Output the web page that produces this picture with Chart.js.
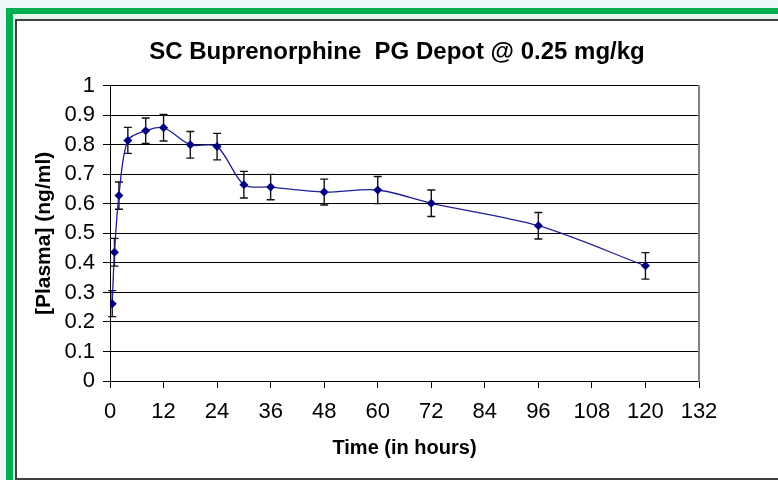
<!DOCTYPE html>
<html>
<head>
<meta charset="utf-8">
<script src="https://cdn.jsdelivr.net/npm/chart.js@4.4.1/dist/chart.umd.min.js"></script>
<style>
  html, body { margin: 0; padding: 0; }
  body { width: 778px; height: 480px; background: #eef7fa; position: relative; overflow: hidden; }
  #green { position: absolute; left: 6px; top: 8px; width: 800px; height: 500px;
           border-left: 7px solid #00b050; border-top: 6px solid #00b050; background: #e4f3ec; }
  #frame { position: absolute; left: 15px; top: 19px; width: 800px; height: 457px;
           border-left: 2px solid #404040; border-top: 2px solid #404040; border-bottom: 2px solid #404040; background: #fff; }
  #chart { position: absolute; left: 0; top: 0; }
</style>
</head>
<body>
<div id="green"></div>
<div id="frame"></div>
<canvas id="chart" width="778" height="480"></canvas>
<script>
// =========================
// data
// =========================
const hours = [0.5, 1, 2, 4, 8, 12, 18, 24, 30, 36, 48, 60, 72, 96, 120];
const plasma = [0.262, 0.436, 0.628, 0.815, 0.848, 0.858, 0.800, 0.794, 0.665, 0.657, 0.640, 0.647, 0.602, 0.526, 0.390];
const sem = [0.044, 0.047, 0.046, 0.044, 0.043, 0.045, 0.045, 0.045, 0.045, 0.043, 0.044, 0.046, 0.045, 0.045, 0.045];
const xTickLabels = ['0', '12', '24', '36', '48', '60', '72', '84', '96', '108', '120', '132'];
const yTickLabels = ['0', '0.1', '0.2', '0.3', '0.4', '0.5', '0.6', '0.7', '0.8', '0.9', '1'];

const FONT = "'Liberation Sans Narrow', 'Arial Narrow', 'Liberation Sans', Arial, sans-serif";

// error bars, drawn under the markers
const errorBars = {
    id: 'errorBars',
    beforeDatasetsDraw(chart) {
        const ctx = chart.ctx;
        const x = chart.scales.x;
        const y = chart.scales.y;
        ctx.save();
        ctx.strokeStyle = '#111';
        ctx.lineWidth = 1.4;
        hours.forEach((h, i) => {
            const px = x.getPixelForValue(h);
            const top = y.getPixelForValue(plasma[i] + sem[i]);
            const bot = y.getPixelForValue(plasma[i] - sem[i]);
            ctx.beginPath();
            ctx.moveTo(px, top); ctx.lineTo(px, bot);
            ctx.moveTo(px - 4, top); ctx.lineTo(px + 4, top);
            ctx.moveTo(px - 4, bot); ctx.lineTo(px + 4, bot);
            ctx.stroke();
        });
        ctx.restore();
    }
};

const ctx = document.getElementById('chart').getContext('2d');
const chart = new Chart(ctx, {
    type: 'line',
    data: {
        datasets: [{
            data: hours.map((h, i) => ({ x: h, y: plasma[i] })),
            borderColor: '#1f1f99',
            borderWidth: 1.3,
            backgroundColor: '#000080',
            pointStyle: 'rectRot',
            pointRadius: 4.5,
            pointBorderWidth: 0,
            tension: 0.3
        }]
    },
    options: {
        responsive: false,
        animation: false,
        layout: { padding: { left: 16, right: 0, top: 0, bottom: 0 } },
        plugins: {
            legend: { display: false },
            tooltip: { enabled: false },
            title: {
                display: true,
                text: 'SC Buprenorphine  PG Depot @ 0.25 mg/kg',
                color: '#000',
                font: { family: FONT, size: 24, weight: 'bold' },
                padding: { top: 38, bottom: 19 }
            }
        },
        scales: {
            x: {
                type: 'linear',
                min: 0,
                max: 132,
                afterFit(s) { s.height = 99; },
                ticks: {
                    stepSize: 12,
                    color: '#000',
                    padding: 11,
                    maxRotation: 0,
                    font: { family: FONT, size: 22 },
                    callback: (v, i) => xTickLabels[i]
                },
                grid: { drawOnChartArea: false, color: '#000', tickLength: 7 },
                border: { color: '#000', width: 1 },
                title: {
                    display: true,
                    text: 'Time (in hours)',
                    color: '#000',
                    font: { family: FONT, size: 20, weight: 'bold' },
                    padding: { top: 0, bottom: 20 }
                }
            },
            y: {
                min: 0,
                max: 1,
                afterFit(s) { s.width = 94; },
                ticks: {
                    stepSize: 0.1,
                    color: '#000',
                    padding: 8,
                    font: { family: FONT, size: 22 },
                    callback: (v, i) => yTickLabels[i]
                },
                grid: { color: '#000', lineWidth: 1, tickLength: 7 },
                border: { color: '#000', width: 1 },
                title: {
                    display: true,
                    text: '[Plasma] (ng/ml)',
                    color: '#000',
                    font: { family: FONT, size: 21, weight: 'bold' },
                    padding: { top: 16, bottom: 0 }
                }
            },
            // empty right axis: holds the plot's right edge line
            yRight: {
                position: 'right',
                min: 0,
                max: 1,
                afterFit(s) { s.width = 79; },
                ticks: { display: false },
                grid: { display: false },
                border: { color: '#808080', width: 2 }
            }
        }
    },
    plugins: [errorBars]
});
</script>
</body>
</html>
